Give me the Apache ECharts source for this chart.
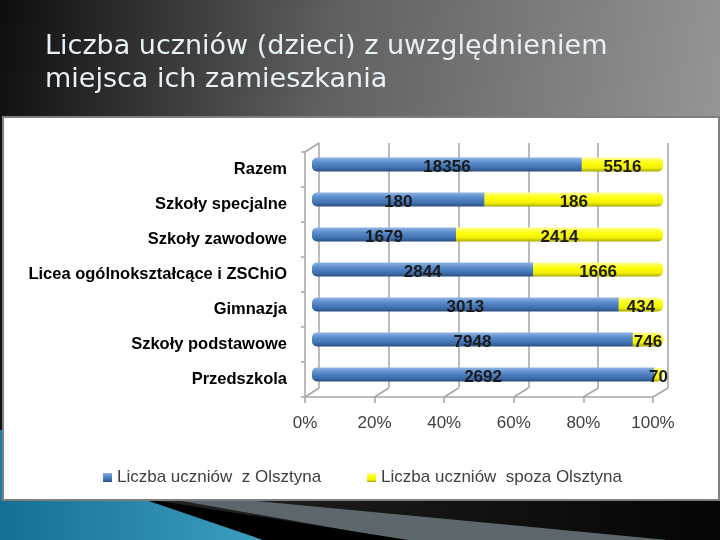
<!DOCTYPE html>
<html><head><meta charset="utf-8">
<script src="https://cdn.jsdelivr.net/npm/echarts@6/dist/echarts.min.js"></script>
<style>
html,body{margin:0;padding:0;background:#111}
#wrap{position:relative;width:720px;height:540px;overflow:hidden}
.bg{position:absolute}
#c{position:absolute;left:0;top:0;width:720px;height:540px}
</style>
</head><body><div id="wrap">
<div class="bg" style="left:0;top:0;width:720px;height:118px;background:linear-gradient(100deg,#0d0d0d 0%,#5f5f5f 45%,#959595 100%)"></div>
<div class="bg" style="left:0;top:498px;width:720px;height:42px;background:linear-gradient(90deg,#2a2a2a,#050505)"></div>
<div class="bg" style="left:0;top:498px;width:720px;height:42px;background:#5c676b;clip-path:polygon(165px 0,225px 0,720px 47px,430px 47px)"></div>
<div class="bg" style="left:0;top:498px;width:720px;height:42px;background:#000;clip-path:polygon(0 0,140px 0,440px 47px,0 47px)"></div>
<div class="bg" style="left:0;top:498px;width:720px;height:42px;background:linear-gradient(90deg,#166f95,#4fb6d6 55%,#2a8fb5);clip-path:polygon(0 0,140px 0,263px 42px,0 42px)"></div>
<div class="bg" style="left:0;top:430px;width:3px;height:70px;background:#1c7fa3"></div>
<div class="bg" style="left:2px;top:116px;width:714px;height:381px;background:#fff;border:2px solid #7f7f7f"></div>
<div id="c"></div></div>
<script>
const categories = ['Razem','Szkoły specjalne','Szkoły zawodowe','Licea ogólnokształcące i ZSChiO','Gimnazja','Szkoły podstawowe','Przedszkola'];
const fromOlsztyn = [18356,180,1679,2844,3013,7948,2692];
const outsideOlsztyn = [5516,186,2414,1666,434,746,70];
const seriesNames = ['Liczba uczniów  z Olsztyna','Liczba uczniów  spoza Olsztyna'];
const tickLabels = ['0%','20%','40%','60%','80%','100%'];
const titleText = 'Liczba uczniów (dzieci) z uwzględnieniem\nmiejsca ich zamieszkania';

const totals = fromOlsztyn.map((v,i)=>v+outsideOlsztyn[i]);
const shareA = fromOlsztyn.map((v,i)=>v/totals[i]*100);
const shareB = outsideOlsztyn.map((v,i)=>v/totals[i]*100);

const FONT = 'Liberation Sans';
const chart = echarts.init(document.getElementById('c'));

const blueGrad = new echarts.graphic.LinearGradient(0,0,0,1,[
  {offset:0,color:'#8fb3e3'},{offset:0.35,color:'#5b8ccc'},{offset:0.75,color:'#3f6fae'},{offset:1,color:'#2a4f80'}]);
const yellowGrad = new echarts.graphic.LinearGradient(0,0,0,1,[
  {offset:0,color:'#ffff9a'},{offset:0.35,color:'#ffff10'},{offset:0.75,color:'#f0f000'},{offset:1,color:'#a8a800'}]);

const labelStyle = {show:true, position:'inside', fontFamily:FONT, fontWeight:'bold', fontSize:17, color:'#1a1a1a', offset:[0,3]};
const axisColor = '#a6a6a6';

const FRONT = {left:305, width:348, top:152, height:245};
const BACK = {left:319, width:349, top:143, height:245};

chart.setOption({
  animation:false,
  backgroundColor:'transparent',
  title:{text:titleText, left:40, top:25,
    textStyle:{fontFamily:'DejaVu Sans', fontSize:27, fontWeight:'normal', color:'#e6f2f7', lineHeight:33}},
  legend:{data:seriesNames, left:98, top:464, itemWidth:9, itemHeight:9, itemGap:46, icon:'rect',
    textStyle:{fontFamily:FONT, fontSize:17, color:'#404040'}},
  grid:[
    {left:312, width:351, top:147, height:245},
    BACK,
    FRONT
  ],
  xAxis:[
    {gridIndex:0, type:'value', min:0, max:100, show:false},
    {gridIndex:1, type:'value', min:0, max:100, interval:20, axisLine:{show:false}, axisTick:{show:false}, axisLabel:{show:false},
      splitLine:{show:true, lineStyle:{color:axisColor, width:1.5}}},
    {gridIndex:2, type:'value', min:0, max:100, interval:20, splitLine:{show:false},
      axisLine:{show:true, lineStyle:{color:axisColor, width:1.5}},
      axisTick:{show:true, length:6, lineStyle:{color:axisColor, width:1.5}},
      axisLabel:{margin:18, fontFamily:FONT, fontSize:17, color:'#404040', formatter:(v)=>tickLabels[Math.round(v/20)]}}
  ],
  yAxis:[
    {gridIndex:0, type:'category', data:categories, inverse:true, show:false},
    {gridIndex:1, type:'category', data:categories, inverse:true, axisLine:{show:false}, axisTick:{show:false}, axisLabel:{show:false}, splitLine:{show:false}},
    {gridIndex:2, type:'category', data:categories, inverse:true,
      axisLine:{show:true, lineStyle:{color:axisColor, width:1.5}},
      axisTick:{show:true, length:4, lineStyle:{color:axisColor, width:1.5}},
      axisLabel:{margin:18, fontFamily:FONT, fontWeight:'bold', fontSize:16.5, color:'#000'}}
  ],
  series:[
    {name:seriesNames[0], type:'bar', stack:'s', xAxisIndex:0, yAxisIndex:0, barWidth:14, data:shareA,
      itemStyle:{color:blueGrad, borderRadius:[5,0,0,5]},
      label:Object.assign({}, labelStyle, {formatter:(p)=>String(fromOlsztyn[p.dataIndex])})},
    {name:seriesNames[1], type:'bar', stack:'s', xAxisIndex:0, yAxisIndex:0, barWidth:14, data:shareB,
      itemStyle:{color:yellowGrad, borderRadius:[0,5,5,0]},
      label:Object.assign({}, labelStyle, {formatter:(p)=>String(outsideOlsztyn[p.dataIndex])})}
  ]
});

// 3D perspective connectors between front axis and back wall
const lines = [];
const frontBottom = FRONT.top+FRONT.height, backBottom = BACK.top+BACK.height;
for (let v=0; v<=100; v+=20){
  const xf = chart.convertToPixel({xAxisIndex:2}, v);
  const xb = chart.convertToPixel({xAxisIndex:1}, v);
  lines.push({type:'line', silent:true, shape:{x1:xf,y1:frontBottom,x2:xb,y2:backBottom}, style:{stroke:axisColor, lineWidth:1.5}});
}
const xf0 = chart.convertToPixel({xAxisIndex:2}, 0), xb0 = chart.convertToPixel({xAxisIndex:1}, 0);
lines.push({type:'line', silent:true, shape:{x1:xf0,y1:FRONT.top,x2:xb0,y2:BACK.top}, style:{stroke:axisColor, lineWidth:1.5}});
chart.setOption({graphic: lines});
</script></body></html>
